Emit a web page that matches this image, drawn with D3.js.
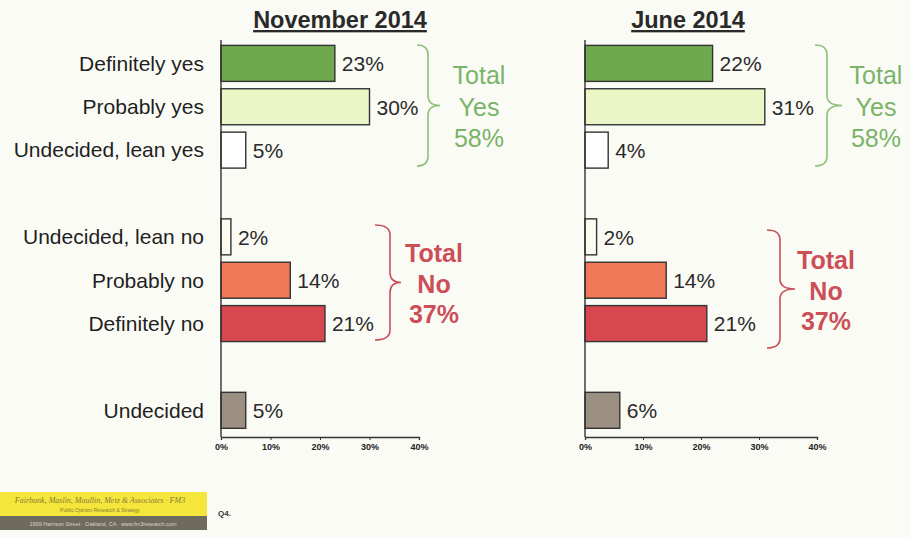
<!DOCTYPE html>
<html><head><meta charset="utf-8">
<script src="https://cdn.jsdelivr.net/npm/d3@7"></script>
<style>
html,body{margin:0;padding:0;background:#fbfbf6;}
svg{display:block;font-family:"Liberation Sans",Arial,sans-serif;}
</style></head>
<body><svg id="c" width="911" height="537"></svg>
<script>
const categories = ["Definitely yes","Probably yes","Undecided, lean yes","Undecided, lean no","Probably no","Definitely no","Undecided"];
const novValues = [23,30,5,2,14,21,5];
const junValues = [22,31,4,2,14,21,6];
const panelTitles = ["November 2014","June 2014"];
const tickValues = [0,10,20,30,40];
const tickLabels = ["0%","10%","20%","30%","40%"];
const totalYes = [58,58];
const totalNo = [37,37];
const barColors = ["#6fa94f","#eaf6c6","#ffffff","#fbfbee","#ef7957","#d8474f","#9a8f80"];

const svg = d3.select("#c");
svg.append("rect").attr("width",911).attr("height",537).attr("fill","#fbfbf6");

const slots = [categories[0],categories[1],categories[2],"_g1",categories[3],categories[4],categories[5],"_g2",categories[6]];
const y = d3.scaleBand().domain(slots).range([41.7,432]).paddingInner(0.17).paddingOuter(0.085);

const panels = [
  {values:novValues,title:panelTitles[0],x0:221,x1:419,titleX:340,yesBrace:[417,428,440],yesTextX:479,noBrace:[375,390,401],noTextX:434,yes:totalYes[0],no:totalNo[0],noTop:225,noBot:340,noTextY:253},
  {values:junValues,title:panelTitles[1],x0:585,x1:817,titleX:688,yesBrace:[815,827,842],yesTextX:876,noBrace:[767,780,795],noTextX:826,yes:totalYes[1],no:totalNo[1],noTop:230,noBot:348,noTextY:260}
];

svg.append("g").selectAll("text").data(categories).join("text")
  .attr("x",204).attr("y",d=>y(d)+y.bandwidth()/2).attr("dy","0.35em")
  .attr("text-anchor","end").attr("font-size",21).attr("fill","#1f1f1f").text(d=>d);

function brace(xs, top, bot){
  const [xe, xv, xt] = xs; const mid=(top+bot)/2; const r = 10;
  return `M${xe},${top} Q${xv},${top} ${xv},${top+r} L${xv},${mid-r} Q${xv},${mid} ${xt},${mid} Q${xv},${mid} ${xv},${mid+r} L${xv},${bot-r} Q${xv},${bot} ${xe},${bot}`;
}

panels.forEach(p=>{
  const x = d3.scaleLinear().domain([0,40]).range([p.x0,p.x1]);
  const g = svg.append("g");
  g.append("text").attr("x",p.titleX).attr("y",28).attr("text-anchor","middle")
    .attr("font-size",23.5).attr("font-weight","bold").attr("fill","#2a2a2a").attr("text-decoration","underline").text(p.title);
  g.selectAll("rect.bar").data(categories).join("rect").attr("class","bar")
    .attr("x",x(0)).attr("y",d=>y(d)).attr("width",(d,i)=>x(p.values[i])-x(0)).attr("height",y.bandwidth())
    .attr("fill",(d,i)=>barColors[i]).attr("stroke","#333").attr("stroke-width",1.4);
  g.selectAll("text.val").data(categories).join("text").attr("class","val")
    .attr("x",(d,i)=>x(p.values[i])+7).attr("y",d=>y(d)+y.bandwidth()/2).attr("dy","0.37em")
    .attr("font-size",21).attr("fill","#2a2a2a").text((d,i)=>p.values[i]+"%");
  g.append("line").attr("x1",x(0)).attr("x2",x(0)).attr("y1",40).attr("y2",437).attr("stroke","#333").attr("stroke-width",1.4);
  const ax = g.append("g").attr("transform","translate(0,437)")
    .call(d3.axisBottom(x).tickValues(tickValues).tickFormat((d,i)=>tickLabels[i]).tickSize(3).tickPadding(4));
  ax.select(".domain").attr("stroke","#333").attr("stroke-width",1.3);
  ax.selectAll(".tick line").attr("stroke","#333");
  ax.selectAll("text").attr("font-size",9).attr("font-weight","bold").attr("fill","#222").attr("font-family","'Liberation Sans',Arial,sans-serif");
  g.append("path").attr("d",brace(p.yesBrace,45,166)).attr("fill","none").attr("stroke","#8cbf78").attr("stroke-width",1.6);
  const yt = g.append("text").attr("text-anchor","middle").attr("font-size",25).attr("fill","#79b468");
  ["Total","Yes",p.yes+"%"].forEach((s,i)=>yt.append("tspan").attr("x",p.yesTextX).attr("y",84+i*31.5).text(s));
  g.append("path").attr("d",brace(p.noBrace,p.noTop,p.noBot)).attr("fill","none").attr("stroke","#c9505a").attr("stroke-width",1.6);
  const nt = g.append("text").attr("text-anchor","middle").attr("font-size",25).attr("font-weight","bold").attr("fill","#cc4f58");
  ["Total","No",p.no+"%"].forEach((s,i)=>nt.append("tspan").attr("x",p.noTextX).attr("y",p.noTextY+9+i*30.5).text(s));
});

const f = svg.append("g");
f.append("rect").attr("x",0).attr("y",492).attr("width",207).attr("height",24).attr("fill","#f4e63a");
f.append("rect").attr("x",0).attr("y",516).attr("width",207).attr("height",14).attr("fill","#6e6a5e");
f.append("text").attr("x",100).attr("y",503).attr("text-anchor","middle").attr("font-size",8).attr("font-style","italic").attr("font-family","'Liberation Serif',serif").attr("fill","#8a7a3a").text("Fairbank, Maslin, Maullin, Metz & Associates · FM3");
f.append("text").attr("x",100).attr("y",512).attr("text-anchor","middle").attr("font-size",5).attr("fill","#8a7a3a").text("Public Opinion Research & Strategy");
f.append("text").attr("x",103).attr("y",526).attr("text-anchor","middle").attr("font-size",5.5).attr("fill","#d8d4c8").text("1999 Harrison Street · Oakland, CA · www.fm3research.com");
f.append("text").attr("x",218).attr("y",516).attr("font-size",8).attr("font-weight","bold").attr("fill","#333").text("Q4.");
</script></body></html>
